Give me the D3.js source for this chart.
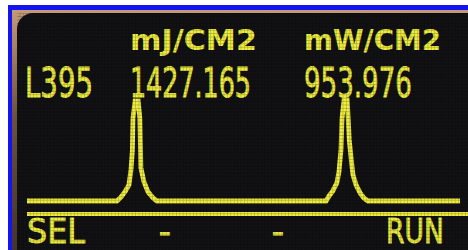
<!DOCTYPE html>
<html>
<head>
<meta charset="utf-8">
<script src="https://cdn.jsdelivr.net/npm/d3@7"></script>
<style>
  body { margin: 0; background: #fff; }
  svg { display: block; }
</style>
</head>
<body>
<div class="screen"></div>
<script>
const WIDTH = 468, HEIGHT = 250;
const YELLOW = "#f0ee3e";

// readout
const lamp = "L395";
const units = ["mJ/CM2", "mW/CM2"];
const readings = ["1427.165", "953.976"];
const softkeys = ["SEL", "-", "-", "RUN"];

// spectrum trace: sensor channel (0..127) and relative level (0..100)
const channel = [0, 26.4, 27.6, 28.7, 29.9, 30.5, 30.9, 31.1, 31.7, 32.6, 33.1, 33.3, 33.4, 34.3, 35.5, 37.0, 38.1,
  87.7, 88.6, 89.7, 90.9, 91.5, 92.1, 92.4, 93.0, 93.9, 94.2, 94.5, 95.1, 95.6, 96.5, 97.7, 98.8, 100.0, 127];
const level = [0, 0, 4, 9, 16, 31, 50, 82, 99, 99, 82, 50, 33, 19, 9, 3, 0,
  0, 5, 10, 18, 29, 51, 82, 100, 100, 82, 61, 41, 26, 16, 8, 3, 0, 0];

// where things sit on the panel
const colX = [130, 304];
const unitW = [127, 137];
const readW = [121, 108];
const keyX = [27, 165, 278, 444];
const keyAnchor = ["start", "middle", "middle", "end"];

var svg = d3.select(".screen")
  .append("svg")
  .attr("width", WIDTH)
  .attr("height", HEIGHT);

// squeeze a text horizontally to a given width, around its anchor
function fit(sel, w) {
  sel.each(function(d, i) {
    const target = typeof w === "function" ? w(d, i) : w;
    if (!target) return;
    const n = this.getComputedTextLength();
    const x0 = +this.getAttribute("x");
    d3.select(this).attr("transform",
      `translate(${x0},0) scale(${target / n},1) translate(${-x0},0)`);
  });
}

const defs = svg.append("defs");
const grad = defs.append("linearGradient").attr("id", "bezel").attr("x1", 0).attr("y1", 0).attr("x2", 0).attr("y2", 1);
grad.append("stop").attr("offset", 0).attr("stop-color", "#c49a78");
grad.append("stop").attr("offset", 0.4).attr("stop-color", "#6b5040");
grad.append("stop").attr("offset", 1).attr("stop-color", "#3a2e2a");

// OLED pixel grid
const pitch = 3.4;
const pat = defs.append("pattern").attr("id", "dots")
  .attr("patternUnits", "userSpaceOnUse")
  .attr("width", pitch).attr("height", pitch);
pat.append("rect").attr("x", 0).attr("y", pitch - 0.7).attr("width", pitch).attr("height", 0.7).attr("fill", "#000");
pat.append("rect").attr("x", pitch - 0.6).attr("y", 0).attr("width", 0.6).attr("height", pitch).attr("fill", "#000");

// frame
svg.append("rect").attr("x", 8).attr("y", 5).attr("width", 480).attr("height", 270).attr("fill", "#1414ee");
svg.append("rect").attr("x", 12).attr("y", 10).attr("width", 480).attr("height", 270).attr("fill", "url(#bezel)");
svg.append("rect").attr("x", 17).attr("y", 13).attr("width", 480).attr("height", 270)
  .attr("rx", 16).attr("fill", "#121215");

const g = svg.append("g").attr("fill", YELLOW).attr("font-family", "DejaVu Sans");

// header units
g.selectAll(".unit").data(units).join("text")
  .attr("class", "unit")
  .attr("x", (d, i) => colX[i])
  .attr("y", 50)
  .attr("font-weight", "bold")
  .attr("font-size", 27.5)
  .text(d => d)
  .call(fit, (d, i) => unitW[i]);

// lamp + readings
g.append("text")
  .attr("x", 25).attr("y", 97)
  .attr("font-size", 41)
  .attr("stroke", YELLOW).attr("stroke-width", 0.8)
  .text(lamp)
  .call(fit, 68);

g.selectAll(".reading").data(readings).join("text")
  .attr("class", "reading")
  .attr("x", (d, i) => colX[i])
  .attr("y", 97)
  .attr("font-size", 41)
  .attr("stroke", YELLOW).attr("stroke-width", 0.8)
  .text(d => d)
  .call(fit, (d, i) => readW[i]);

// spectrum
const x = d3.scaleLinear().domain([0, 127]).range([27, 460]);
const y = d3.scaleLinear().domain([0, 100]).range([201, 100]);

const line = d3.line()
  .x(d => x(d[0]))
  .y(d => y(d[1]));

svg.append("path")
  .datum(d3.zip(channel, level))
  .attr("d", line)
  .attr("fill", "none")
  .attr("stroke", YELLOW)
  .attr("stroke-width", 4.8)
  .attr("stroke-linejoin", "miter")
  .attr("stroke-miterlimit", 2);

// divider
svg.append("rect").attr("x", 27).attr("y", 212).attr("width", 460).attr("height", 4).attr("fill", YELLOW);

// soft keys
g.selectAll(".key").data(softkeys).join("text")
  .attr("class", "key")
  .attr("x", (d, i) => keyX[i])
  .attr("y", 243)
  .attr("text-anchor", (d, i) => keyAnchor[i])
  .attr("font-size", 34)
  .attr("stroke", YELLOW).attr("stroke-width", 0.8)
  .text(d => d)
  .call(fit, d => d.length > 1 ? 58 : 0);

// pixel grid over the panel
svg.append("rect").attr("x", 17).attr("y", 13).attr("width", 460).attr("height", 240)
  .attr("fill", "url(#dots)").attr("opacity", 0.3);
</script>
</body>
</html>
